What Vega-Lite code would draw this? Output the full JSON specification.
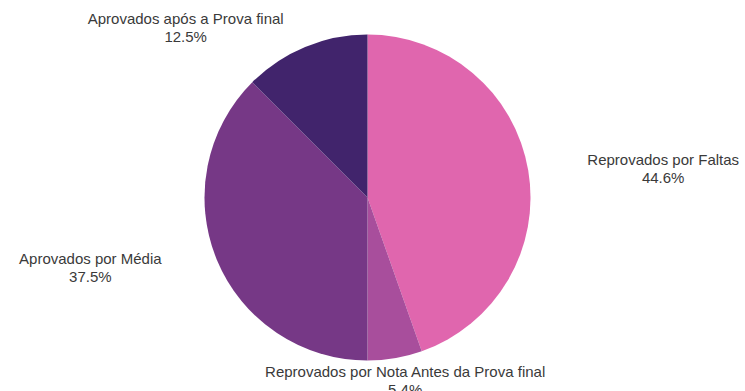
{
  "$schema": "https://vega.github.io/schema/vega-lite/v6.json",
  "width": 745,
  "height": 391,
  "autosize": {"type": "fit", "contains": "padding"},
  "padding": {"left": 0, "right": 10, "top": 9, "bottom": 0},
  "background": "white",
  "view": {"stroke": null},
  "data": {
    "values": [
      {"categoria": "Reprovados por Faltas", "valor": 44.6, "ordem": 1},
      {"categoria": "Reprovados por Nota Antes da Prova final", "valor": 5.4, "ordem": 2},
      {"categoria": "Aprovados por Média", "valor": 37.5, "ordem": 3},
      {"categoria": "Aprovados após a Prova final", "valor": 12.5, "ordem": 4}
    ]
  },
  "transform": [
    {"calculate": "datum.categoria + '\\n' + format(datum.valor, '.1f') + '%'", "as": "rotulo"}
  ],
  "encoding": {
    "theta": {"field": "valor", "type": "quantitative", "stack": true},
    "order": {"field": "ordem", "type": "quantitative"}
  },
  "layer": [
    {
      "mark": {"type": "arc", "outerRadius": 163, "strokeWidth": 0},
      "encoding": {
        "color": {
          "field": "categoria",
          "type": "nominal",
          "scale": {
            "domain": ["Reprovados por Faltas", "Reprovados por Nota Antes da Prova final", "Aprovados por Média", "Aprovados após a Prova final"],
            "range": ["#e066ae", "#a84e9c", "#763886", "#41246c"]
          },
          "legend": null
        }
      }
    },
    {
      "mark": {
        "type": "text",
        "radius": 180,
        "dx": {"expr": "120*sin(PI*(datum.valor_start+datum.valor_end)/100) + (cos(PI*(datum.valor_start+datum.valor_end)/100) > 0.5 ? -67 : 0) + (cos(PI*(datum.valor_start+datum.valor_end)/100) < -0.9 ? -13 : 0)"},
        "dy": {"expr": "cos(PI*(datum.valor_start+datum.valor_end)/100) > 0.5 ? -12 : (cos(PI*(datum.valor_start+datum.valor_end)/100) < -0.9 ? -3 : -7)"},
        "lineBreak": "\n",
        "fontSize": 15,
        "lineHeight": 18,
        "font": "Liberation Sans",
        "color": "#3a3a3a"
      },
      "encoding": {
        "text": {"field": "rotulo", "type": "nominal"},
        "detail": {"field": "categoria", "type": "nominal"}
      }
    }
  ]
}
